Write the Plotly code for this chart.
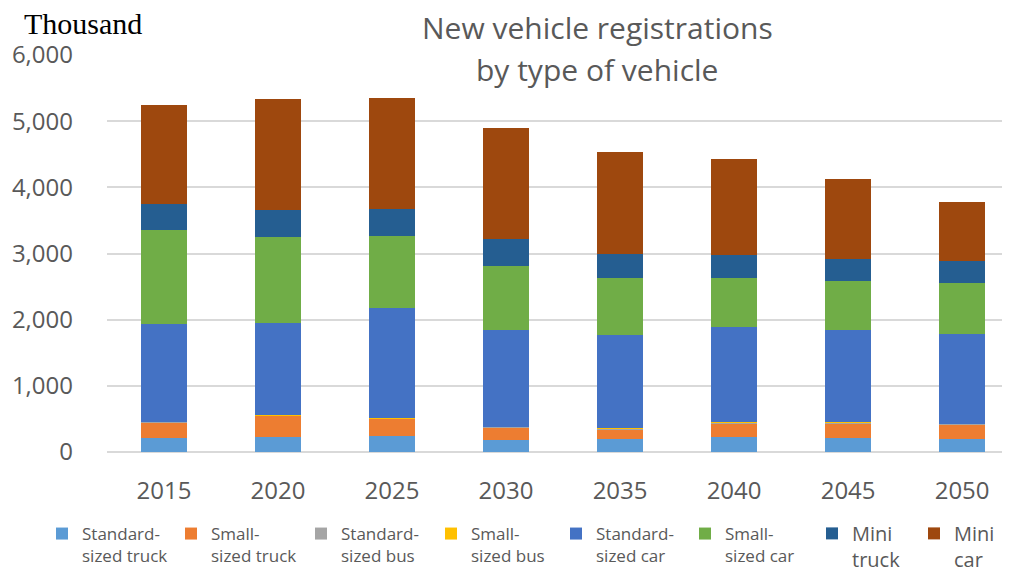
import plotly.graph_objects as go

years = ["2015", "2020", "2025", "2030", "2035", "2040", "2045", "2050"]
series_names = ["Standard-<br>sized truck", "Small-<br>sized truck", "Standard-<br>sized bus",
                "Small-<br>sized bus", "Standard-<br>sized car", "Small-<br>sized car",
                "Mini<br>truck", "Mini<br>car"]
std_truck = [210, 230, 235, 185, 190, 230, 210, 200]
small_truck = [235, 315, 265, 185, 155, 205, 225, 215]
std_bus = [10, 10, 10, 10, 10, 10, 10, 10]
small_bus = [5, 5, 5, 5, 5, 5, 5, 5]
std_car = [1475, 1390, 1660, 1455, 1405, 1440, 1390, 1360]
small_car = [1420, 1294, 1097, 976, 867, 735, 740, 770]
mini_truck = [393, 418, 403, 408, 363, 347, 342, 327]
mini_car = [1495, 1672, 1677, 1672, 1534, 1450, 1198, 886]
y_ticks = [0, 1000, 2000, 3000, 4000, 5000, 6000]

colors = ["#5B9BD5", "#ED7D31", "#A5A5A5", "#FFC000", "#4472C4", "#70AD47", "#255E91", "#9E480E"]
values = [std_truck, small_truck, std_bus, small_bus, std_car, small_car, mini_truck, mini_car]

W, H = 1002, 564
L, T, B = 99, 47, 119.5
PW = W - L
PH = H - T - B

# legend marker centres (page pixels) and font sizes per entry
legend_marker_x = [66, 195, 325, 455, 580, 709, 836, 938]
legend_font_size = [17, 17, 17, 17, 17, 17, 20, 20]

fig = go.Figure()
for i, (name, vals, col) in enumerate(zip(series_names, values, colors)):
    lname = "legend" if i == 0 else f"legend{i + 1}"
    fig.add_trace(go.Bar(x=years, y=vals, name=name, legend=lname,
                         marker=dict(color=col, line=dict(width=0))))

legend_layouts = {}
for i, (mx, fs) in enumerate(zip(legend_marker_x, legend_font_size)):
    lname = "legend" if i == 0 else f"legend{i + 1}"
    legend_layouts[lname] = dict(
        orientation="h", xref="container", yref="container",
        x=(mx - 32) / W, y=1 - (508 - (fs - 17) * 0.7) / H, xanchor="left", yanchor="top",
        font=dict(size=fs, color="#595959", family="Open Sans"),
        valign="top", itemwidth=30, bgcolor="rgba(0,0,0,0)")

fig.update_layout(
    barmode="stack",
    bargap=0.6,
    width=W, height=H,
    margin=dict(l=L, r=0, t=T, b=B),
    plot_bgcolor="white", paper_bgcolor="white",
    font=dict(family="Open Sans", color="#595959"),
    showlegend=True,
    xaxis=dict(range=[-0.5, 7.42], tickfont=dict(size=24, color="#595959"),
               showline=False, ticks="", showgrid=False, ticklabelstandoff=22),
    yaxis=dict(range=[0, 6000], tickvals=y_ticks, tickformat=",d",
               tickfont=dict(size=24, color="#595959"),
               showgrid=True, gridcolor="#d9d9d9", gridwidth=1.5,
               zeroline=True, zerolinecolor="#d9d9d9", zerolinewidth=1.5,
               ticks="", showline=False, ticklabelstandoff=33),
    annotations=[
        dict(text="Thousand", xref="paper", yref="paper", x=-L / PW, y=1 + (T - 15) / PH,
             xanchor="left", yanchor="middle", showarrow=False, xshift=14,
             font=dict(family="Liberation Serif", size=30, color="black")),
        dict(text="New vehicle registrations", xref="paper", yref="paper",
             x=(589 - L) / PW, y=1 + (T - 19) / PH, xanchor="center", yanchor="middle",
             showarrow=False, font=dict(family="Open Sans", size=30, color="#595959")),
        dict(text="by type of vehicle", xref="paper", yref="paper",
             x=(589 - L) / PW, y=1 + (T - 62) / PH, xanchor="center", yanchor="middle",
             showarrow=False, font=dict(family="Open Sans", size=30, color="#595959")),
    ],
    **legend_layouts,
)

fig.write_html("out.html")
